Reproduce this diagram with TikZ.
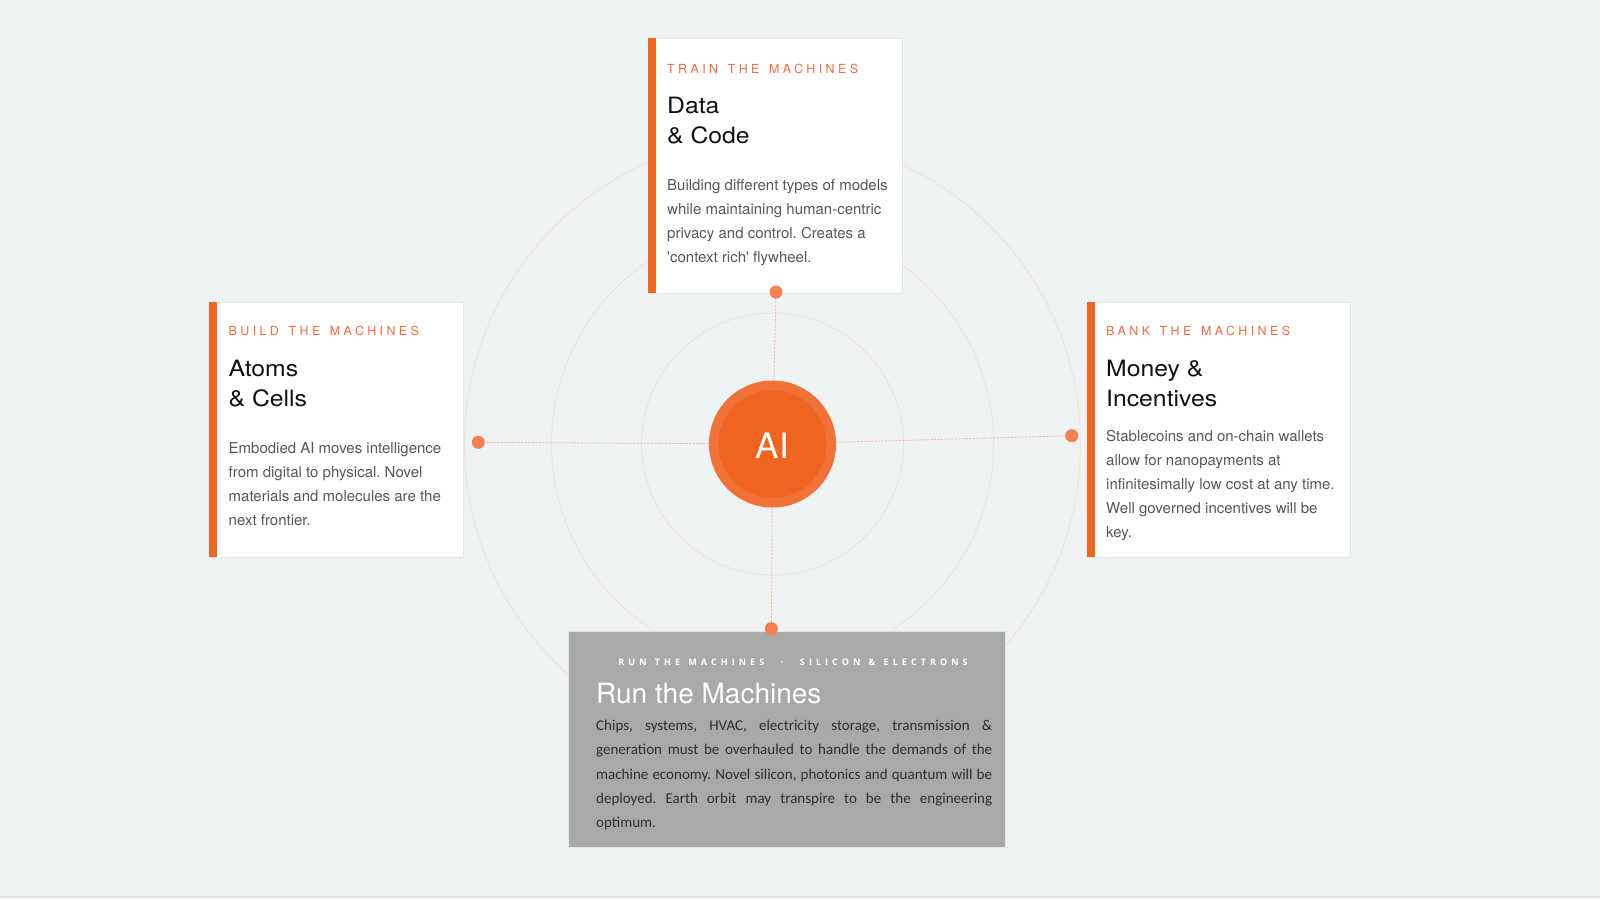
\documentclass[tikz,border=0pt]{standalone}
\usepackage{fontspec}
\usetikzlibrary{calc}
\setmainfont[Ligatures=TeXOff]{TeX Gyre Heros}
\newfontfamily\headfont[FakeStretch=1.1]{TeX Gyre Heros}
\newfontfamily\labelfont[LetterSpace=27,WordSpace=1.4]{TeX Gyre Heros}
\newfontfamily\capfont[LetterSpace=45,WordSpace=1.3]{Open Sans}
\newfontfamily\calfont{Carlito}
\definecolor{bg}{HTML}{F0F3F4}
\definecolor{strip}{HTML}{E1E5E8}
\definecolor{ringc}{HTML}{F4E0D6}
\definecolor{conn}{HTML}{F3BA9A}
\definecolor{dotc}{HTML}{F3814F}
\definecolor{barc}{HTML}{F0661E}
\definecolor{labelc}{HTML}{F26B3A}
\definecolor{headc}{HTML}{111111}
\definecolor{bodyc}{HTML}{575757}
\definecolor{grayc}{HTML}{A9A9A9}
\definecolor{graytext}{HTML}{2E2E2E}
\definecolor{edgec}{HTML}{E3E6E8}
\definecolor{aiout}{HTML}{F07236}
\definecolor{aiin}{HTML}{EF6421}
\tikzset{
  ring/.style={draw=ringc, line width=0.8pt},
  conline/.style={draw=conn, line width=0.8pt, dash pattern=on 2pt off 1.5pt},
  dotnode/.style={circle, fill=dotc, minimum size=13pt, inner sep=0pt},
  card/.style={fill=white, draw=edgec, line width=0.7pt, inner sep=0pt, anchor=north west},
  bar/.style={fill=barc},
  lbl/.style={anchor=base west, inner sep=0pt, text=labelc, font=\labelfont\fontsize{12.5}{15}\selectfont},
  head/.style={anchor=base west, inner sep=0pt, text=headc, font=\headfont\fontsize{22.5}{30}\selectfont},
  body/.style={anchor=base west, inner sep=0pt, text=bodyc, font=\frenchspacing\fontsize{15}{24}\selectfont},
}
\begin{document}
\frenchspacing
\begin{tikzpicture}[x=1pt,y=-1pt]
\useasboundingbox (0,0) rectangle (1600,898);
\fill[bg] (0,0) rectangle (1600,898);
\fill[strip] (0,895.5) rectangle (1600,898);

% centre
\coordinate (c) at (772.5,444);
\draw[ring] (c) circle (131pt);
\draw[ring] (c) circle (221pt);
\draw[ring] (c) circle (308pt);

% dots (positions)
\coordinate (pT) at (776,292);
\coordinate (pL) at (478.3,442.3);
\coordinate (pR) at (1071.7,435.7);
\coordinate (pB) at (771.4,628.6);

% AI node
\node[circle, fill=aiout, minimum size=127pt, inner sep=0pt] (ai) at (c) {};
\fill[aiin] (c) circle (54pt);
\node[text=white, font=\fontsize{35}{40}\selectfont, inner sep=0pt] (ailbl) at ($(c)+(0,1.5)$) {AI};

% connectors
\draw[conline] (ai) -- (pT);
\draw[conline] (ai) -- (pL);
\draw[conline] (ai) -- (pR);
\draw[conline] (ai) -- (pB);

% top card
\node[card, minimum width=254pt, minimum height=255pt] (topcard) at (648,38) {};
\fill[bar] (648,38) rectangle (656,293);
\node[lbl] (tl) at (667,73.3) {TRAIN THE MACHINES};
\node[head] (th1) at (667,113.3) {Data};
\node[head] (th2) at (667,143.3) {\& Code};
\foreach \t [count=\i from 0] in {{Building different types of models},{while maintaining human-centric},{privacy and control. Creates a},{'context rich' flywheel.}}
  \node[body] (tb\i) at (667,190+24.1*\i) {\t};

% left card
\node[card, minimum width=254pt, minimum height=255pt] (leftcard) at (209,302) {};
\fill[bar] (209,302) rectangle (217,557);
\node[lbl] (ll) at (228.5,335.7) {BUILD THE MACHINES};
\node[head] (lh1) at (228.5,376.7) {Atoms};
\node[head] (lh2) at (228.5,406.7) {\& Cells};
\foreach \t [count=\i from 0] in {{Embodied AI moves intelligence},{from digital to physical. Novel},{materials and molecules are the},{next frontier.}}
  \node[body] (lb\i) at (228.5,453.3+24.1*\i) {\t};

% right card
\node[card, minimum width=263pt, minimum height=255pt] (rightcard) at (1087,302) {};
\fill[bar] (1087,302) rectangle (1095,557);
\node[lbl] (rl) at (1106,335.7) {BANK THE MACHINES};
\node[head] (rh1) at (1106,376.7) {Money \&};
\node[head] (rh2) at (1106,406.7) {Incentives};
\foreach \t [count=\i from 0] in {{Stablecoins and on-chain wallets},{allow for nanopayments at},{infinitesimally low cost at any time.},{Well governed incentives will be},{key.}}
  \node[body] (rb\i) at (1106,441.7+24*\i) {\t};

% bottom card
\node[fill=grayc, draw=edgec, line width=0.5pt, inner sep=0pt, anchor=north west, minimum width=437pt, minimum height=216pt] (botcard) at (568,631) {};
\node[anchor=base, inner sep=0pt, text=white, font=\capfont\bfseries\fontsize{9}{10}\selectfont] (bcap) at (793,665.7) {RUN THE MACHINES \ \textperiodcentered\ \ SILICON \& ELECTRONS};
\node[anchor=base west, inner sep=0pt, text=white, font=\fontsize{28}{32}\selectfont] (bhead) at (596,703.3) {Run the Machines};
\foreach \t [count=\i from 0] in {{Chips, systems, HVAC, electricity storage, transmission \&},{generation must be overhauled to handle the demands of the},{machine economy. Novel silicon, photonics and quantum will be},{deployed. Earth orbit may transpire to be the engineering}}
  \node[anchor=base west, inner sep=0pt, text=graytext, font=\calfont\frenchspacing\fontsize{15}{24}\selectfont] (bb\i) at (596,730.7+24.25*\i) {\makebox[396pt][s]{\t}};
\node[anchor=base west, inner sep=0pt, text=graytext, font=\calfont\fontsize{15}{24}\selectfont] (bb4) at (596,827.7) {optimum.};

% dots on top
\node[dotnode] (dT) at (pT) {};
\node[dotnode] (dL) at (pL) {};
\node[dotnode] (dR) at (pR) {};
\node[dotnode] (dB) at (pB) {};
\end{tikzpicture}
\end{document}
